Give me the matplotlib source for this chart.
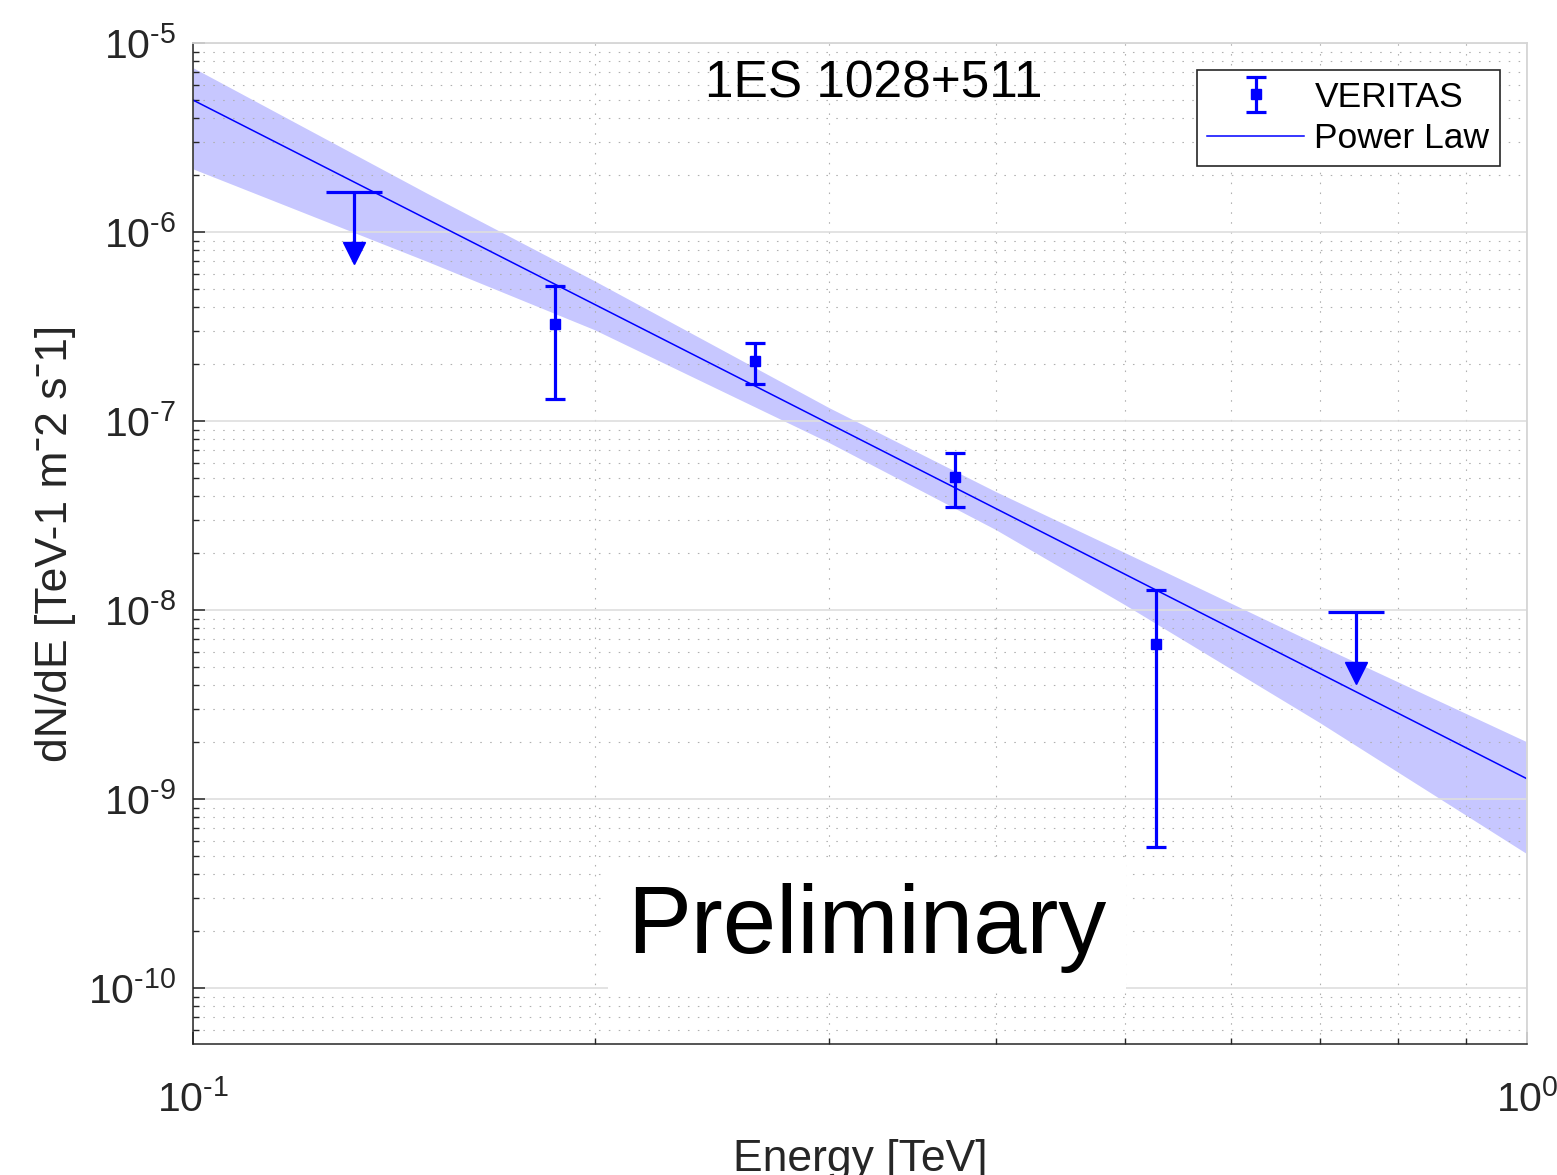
import matplotlib
matplotlib.use('Agg')
import matplotlib.pyplot as plt
import numpy as np
from matplotlib.ticker import LogLocator, NullFormatter, FuncFormatter, FixedLocator

plt.rcParams['font.family'] = ['Liberation Sans', 'DejaVu Sans']
plt.rcParams['mathtext.fontset'] = 'custom'
plt.rcParams['mathtext.rm'] = 'Liberation Sans'
plt.rcParams['mathtext.it'] = 'Liberation Sans:italic'
plt.rcParams['mathtext.default'] = 'regular'

# ---------------- data ----------------
energy = np.array([0.1868, 0.2639, 0.3726, 0.5271])          # TeV
flux = np.array([3.26e-7, 2.08e-7, 5.05e-8, 6.61e-9])
flux_hi = np.array([5.18e-7, 2.59e-7, 6.77e-8, 1.28e-8])
flux_lo = np.array([1.31e-7, 1.57e-7, 3.51e-8, 5.57e-10])

ul_energy = np.array([0.132, 0.7444])
ul_flux = np.array([1.63e-6, 9.80e-9])

pl_energy = np.array([0.1, 1.0])
pl_flux = np.array([4.99e-6, 1.28e-9])

band_energy = np.array([0.1, 0.15, 0.2, 0.3, 0.4, 0.5, 0.7, 1.0])
band_upper = np.array([7.38e-6, 1.59e-6, 5.50e-7, 1.17e-7, 4.21e-8, 2.00e-8, 6.45e-9, 2.00e-9])
band_lower = np.array([2.15e-6, 6.94e-7, 3.03e-7, 7.65e-8, 2.65e-8, 1.06e-8, 2.52e-9, 5.12e-10])

x_ticks = [0.1, 1.0]
y_ticks = [1e-10, 1e-9, 1e-8, 1e-7, 1e-6, 1e-5]

# ---------------- figure ----------------
W, H = 1557, 1175
fig = plt.figure(figsize=(W / 100, H / 100), dpi=100)
ax = fig.add_axes([193 / W, 1 - 1044 / H, (1527 - 193) / W, (1044 - 43) / H])

ax.set_xscale('log')
ax.set_yscale('log')
ax.set_xlim(0.1, 1.0)
ax.set_ylim(5.06e-11, 1e-5)

blue = (0, 0, 1)
# confidence band
ax.fill_between(band_energy, band_lower, band_upper, facecolor=blue, alpha=0.22,
                edgecolor='none', zorder=1)
# power law
pl_line, = ax.plot(pl_energy, pl_flux, color=blue, lw=1.1, zorder=2, label='Power Law')

# data points
eb = ax.errorbar(energy, flux, yerr=[flux - flux_lo, flux_hi - flux], fmt='s',
                 color=blue, ms=6.5, elinewidth=2.3, capsize=7.5, capthick=2.3,
                 zorder=3, label='VERITAS')

# upper limits
dec = 189.0  # pixels per decade (style only)
ax.plot(ul_energy, ul_flux, ls='none', marker='_', ms=41, mew=2.3, color=blue, zorder=3)
ax.vlines(ul_energy, ul_flux * 10 ** (-50 / dec), ul_flux, color=blue, lw=2.3, zorder=3)
ax.plot(ul_energy, ul_flux * 10 ** (-61 / dec), ls='none', marker='v', ms=16,
        color=blue, mec=blue, zorder=3)


def pow_fmt(v, pos):
    n = int(round(np.log10(v)))
    s = str(n).replace('-', '\u2010')
    return r'$\mathregular{10^{%s}}$' % s


# ticks & grid
ax.xaxis.set_major_locator(FixedLocator(x_ticks))
ax.xaxis.set_minor_locator(LogLocator(base=10, subs=np.arange(2, 10)))
ax.yaxis.set_major_locator(FixedLocator(y_ticks))
ax.yaxis.set_minor_locator(LogLocator(base=10, subs=np.arange(2, 10), numticks=20))
ax.xaxis.set_major_formatter(FuncFormatter(pow_fmt))
ax.yaxis.set_major_formatter(FuncFormatter(pow_fmt))
ax.xaxis.set_minor_formatter(NullFormatter())
ax.yaxis.set_minor_formatter(NullFormatter())

dark = '#262626'
ax.tick_params(which='both', direction='in', top=False, right=False, colors=dark)
ax.tick_params(which='major', length=8.5, width=1.1, labelsize=29.5)
ax.tick_params(which='minor', length=4.3, width=1.0)
ax.tick_params(axis='x', which='major', pad=26)
ax.tick_params(axis='y', which='major', pad=12)

ax.set_axisbelow('line')
ax.grid(which='major', color='#dedede', lw=1.2, ls='-')
ax.grid(which='minor', color='#b0b0b0', lw=0.8, ls=(0, (1.4, 7.5)))

for s in ['left', 'bottom']:
    ax.spines[s].set_color(dark)
    ax.spines[s].set_linewidth(1.1)
for s in ['top', 'right']:
    ax.spines[s].set_color('#d6d6d6')
    ax.spines[s].set_linewidth(1.3)

# labels
ax.set_xlabel('Energy [TeV]', fontsize=32, color=dark)
ax.xaxis.set_label_coords(0.5, -0.095)
ax.xaxis.label.set_va('top')
ax.set_ylabel('dN/dE [TeV-1 m\u02c92 s\u02c91]', fontsize=32, color=dark, va='center')
ax.yaxis.set_label_coords(-0.1034, 0.5)

ax.text(0.51, 0.946, '1ES 1028+511', transform=ax.transAxes, fontsize=37,
        ha='center', va='baseline', color='black', zorder=4)
ax.text(0.505, 0.091, 'Preliminary', transform=ax.transAxes, fontsize=69,
        ha='center', va='baseline', color='black', zorder=4,
        bbox=dict(boxstyle='square,pad=0.2', fc='white', ec='none'))

leg = ax.legend(handles=[eb, pl_line], labels=['VERITAS', 'Power Law'],
                loc='upper right', bbox_to_anchor=((1500 - 193) / 1334, (1044 - 70) / 1001),
                borderaxespad=0, fontsize=25.5, frameon=True, fancybox=False,
                framealpha=1, edgecolor=dark, handlelength=2.74, handletextpad=0.28,
                borderpad=0.3, labelspacing=0.25)
leg.get_frame().set_linewidth(1.2)

fig.savefig('out.png', dpi=100)
